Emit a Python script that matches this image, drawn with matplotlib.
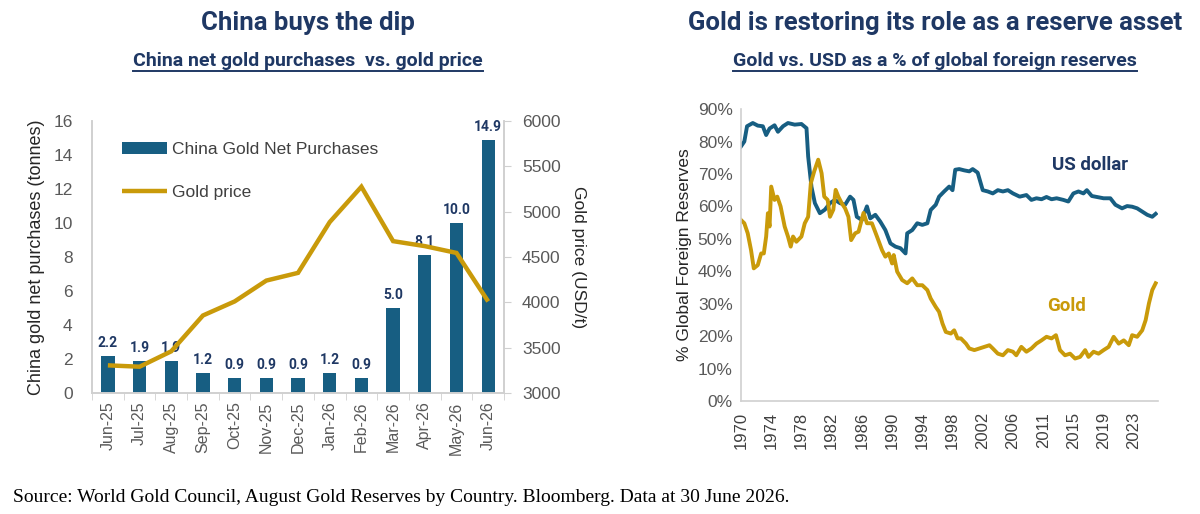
import numpy as np
import matplotlib
matplotlib.use("Agg")
import matplotlib.pyplot as plt
from matplotlib.lines import Line2D

# ---- left chart data ----
months = ["Jun-25", "Jul-25", "Aug-25", "Sep-25", "Oct-25", "Nov-25", "Dec-25",
          "Jan-26", "Feb-26", "Mar-26", "Apr-26", "May-26", "Jun-26"]
china_purchases = [2.2, 1.9, 1.9, 1.2, 0.9, 0.9, 0.9, 1.2, 0.9, 5.0, 8.1, 10.0, 14.9]
gold_price = [3305, 3290, 3460, 3855, 4010, 4240, 4325, 4885, 5275, 4675, 4620, 4545, 4010]

# ---- right chart data ----
usd_years = [1970.0, 1970.44, 1970.8, 1971.56, 1972.22, 1972.89, 1973.33, 1973.78, 1974.44,
             1974.89, 1975.56, 1976.22, 1977.11, 1978.0, 1978.67, 1978.89, 1979.33, 1979.78,
             1980.44, 1981.11, 1981.78, 1982.44, 1983.11, 1983.78, 1984.44, 1984.89, 1985.33,
             1986.0, 1986.67, 1987.11, 1987.78, 1988.44, 1989.11, 1989.78, 1990.44, 1991.11,
             1991.78, 1992.0, 1992.67, 1993.33, 1994.0, 1994.67, 1995.11, 1995.78, 1996.22,
             1996.89, 1997.56, 1998.0, 1998.36, 1998.89, 1999.56, 2000.22, 2000.67, 2001.33,
             2002.0, 2002.67, 2003.33, 2004.0, 2004.67, 2005.33, 2006.0, 2006.89, 2007.78,
             2008.44, 2009.11, 2009.78, 2010.44, 2011.11, 2011.78, 2012.67, 2013.33, 2014.0,
             2014.67, 2015.33, 2015.78, 2016.44, 2017.33, 2018.0, 2018.89, 2019.56, 2020.44,
             2021.11, 2021.78, 2022.44, 2023.11, 2023.78, 2024.44, 2024.89]
usd_share = [78.5, 80.0, 84.7, 85.7, 84.9, 84.7, 82.0, 84.0, 85.0, 83.0, 84.7, 85.7, 85.2,
             85.4, 84.1, 75.4, 66.0, 61.0, 57.9, 59.0, 61.0, 62.0, 61.0, 60.5, 63.0, 62.0,
             56.8, 55.8, 60.0, 56.3, 57.4, 55.3, 52.7, 48.6, 47.6, 47.1, 45.5, 51.7, 52.7,
             54.8, 54.3, 54.8, 58.9, 60.5, 63.0, 64.6, 66.1, 65.0, 71.3, 71.5, 71.1, 70.8,
             71.5, 70.4, 65.0, 64.6, 64.0, 65.0, 64.6, 65.0, 64.0, 63.0, 63.5, 62.0, 62.5,
             62.2, 62.9, 62.2, 62.5, 62.0, 61.5, 64.0, 64.6, 64.0, 65.0, 63.2, 62.8, 62.5,
             62.5, 60.5, 59.4, 60.1, 59.9, 59.4, 58.4, 57.4, 56.8, 57.7]

gold_years = [1970.0, 1970.44, 1970.89, 1971.33, 1971.69, 1972.22, 1972.67, 1973.02, 1973.33,
              1973.56, 1973.78, 1974.0, 1974.44, 1974.8, 1975.24, 1975.78, 1976.22, 1976.58,
              1976.89, 1977.33, 1978.0, 1978.44, 1978.89, 1979.24, 1979.69, 1980.22, 1980.67,
              1981.02, 1981.47, 1981.78, 1982.22, 1982.53, 1982.89, 1983.33, 1983.78, 1984.22,
              1984.58, 1985.11, 1985.56, 1986.22, 1986.67, 1987.33, 1988.0, 1988.67, 1989.11,
              1989.56, 1990.0, 1990.22, 1990.67, 1991.33, 1992.0, 1992.67, 1993.33, 1994.0,
              1994.67, 1995.11, 1995.78, 1996.22, 1996.67, 1997.11, 1997.78, 1998.22, 1998.67,
              1999.11, 1999.78, 2000.22, 2000.89, 2001.56, 2002.22, 2002.89, 2003.33, 2004.0,
              2004.67, 2005.33, 2006.0, 2006.44, 2007.11, 2007.78, 2008.44, 2009.11, 2009.78,
              2010.44, 2011.11, 2011.69, 2012.22, 2012.89, 2013.56, 2014.22, 2014.89, 2015.56,
              2016.0, 2016.67, 2017.33, 2018.0, 2018.67, 2019.33, 2020.0, 2020.67, 2021.33,
              2021.78, 2022.44, 2023.11, 2023.56, 2024.0, 2024.44, 2024.89]
gold_share = [55.8, 54.8, 51.7, 46.5, 40.9, 41.9, 45.5, 45.5, 50.7, 57.9, 53.8, 66.1, 62.0,
              63.0, 60.0, 53.8, 50.7, 47.6, 50.7, 49.1, 50.7, 54.8, 56.8, 67.1, 70.8, 74.4,
              70.2, 63.0, 62.0, 56.8, 59.0, 65.1, 63.0, 61.0, 59.4, 56.8, 49.6, 51.7, 52.2,
              58.0, 54.8, 54.8, 50.7, 46.5, 44.5, 45.5, 42.4, 45.0, 39.9, 37.3, 36.3, 37.8,
              35.7, 35.7, 34.2, 31.6, 29.0, 27.5, 23.9, 21.3, 20.8, 21.8, 19.3, 19.3, 17.7,
              16.2, 15.7, 16.2, 16.7, 17.2, 16.2, 14.6, 14.1, 15.7, 15.2, 14.1, 16.7, 15.2,
              16.2, 17.7, 18.7, 19.8, 19.3, 20.3, 15.7, 14.1, 14.6, 13.1, 13.6, 15.7, 13.6,
              15.2, 14.6, 15.7, 16.7, 19.8, 17.7, 18.7, 17.2, 20.3, 19.8, 21.8, 24.9, 30.1,
              34.2, 36.3]
year_ticks = [1970, 1974, 1978, 1982, 1986, 1990, 1994, 1998, 2002, 2006, 2010, 2014, 2018, 2022]
year_labels = ["1970", "1974", "1978", "1982", "1986", "1990", "1994", "1998", "2002",
               "2006", "2011", "2015", "2019", "2023"]

BLUE = "#175E82"
GOLD = "#C99A0A"
NAVY = "#1F3864"
GREY_TXT = "#595959"
GREY_LINE = "#D0D0D0"

plt.rcParams["font.family"] = ["Liberation Sans", "DejaVu Sans"]

fig = plt.figure(figsize=(12, 5.14), dpi=100)

# ---------------- left chart ----------------
ax = fig.add_axes([0.0767, 0.2354, 0.3433, 0.5292])
ax2 = ax.twinx()
x = np.arange(len(months))
bars = ax.bar(x, china_purchases, width=0.42, color=BLUE, label="China Gold Net Purchases", zorder=2)
ln, = ax2.plot(x, gold_price, color=GOLD, lw=3.2, label="Gold price", solid_capstyle="butt",
               solid_joinstyle="miter")

for xi, v in zip(x, china_purchases):
    ax.text(xi, v + 0.35, f"{v:.1f}", ha="center", va="bottom", color=NAVY, fontsize=10,
            fontweight="bold", family=["Roboto", "DejaVu Sans"], zorder=3)

ax.set_xlim(-0.5, len(months) - 0.5)
ax.set_ylim(0, 16)
ax.set_yticks(range(0, 17, 2))
ax2.set_ylim(3000, 6000)
ax2.set_yticks(range(3000, 6001, 500))
ax.set_xticks(x)
ax.set_xticklabels(months, rotation=90, fontsize=11.5, color=GREY_TXT)
ax.set_xticks(np.arange(-0.5, len(months), 1), minor=True)
ax.tick_params(axis="x", which="major", length=0, pad=6)
ax.tick_params(axis="x", which="minor", length=5, color=GREY_LINE)
ax.tick_params(axis="y", length=0, labelsize=12.5, labelcolor=GREY_TXT, pad=14)
ax2.tick_params(axis="y", length=5, color=GREY_LINE, labelsize=12.5, labelcolor=GREY_TXT, pad=8)
for a in (ax, ax2):
    a.spines["top"].set_visible(False)
    for s in ("left", "right", "bottom"):
        a.spines[s].set_color(GREY_LINE)
        a.spines[s].set_linewidth(1.2)
ax.set_ylabel("China gold net purchases (tonnes)", fontsize=13, color="#262626", labelpad=6)
ax2.set_ylabel("Gold price (USD/t)", fontsize=12.5, color="#262626", rotation=270, labelpad=18)

leg = ax.legend(handles=[bars, ln], loc="upper left", bbox_to_anchor=(0.035, 0.98), frameon=False,
                labelspacing=1.6, handlelength=2.6, handletextpad=0.25,
                prop={"size": 12.5})
for t in leg.get_texts():
    t.set_color("#404040")

# ---------------- right chart ----------------
bx = fig.add_axes([0.6175, 0.2198, 0.3475, 0.568])
bx.plot(usd_years, usd_share, color=BLUE, lw=2.8, solid_joinstyle="round")
bx.plot(gold_years, gold_share, color=GOLD, lw=2.8, solid_joinstyle="round")
bx.set_xlim(1970, 2025.2)
bx.set_ylim(0, 90)
bx.set_yticks(range(0, 91, 10))
bx.set_yticklabels([f"{v}%" for v in range(0, 91, 10)])
bx.set_xticks(year_ticks)
bx.set_xticklabels(year_labels, rotation=90)
bx.tick_params(axis="y", length=0, labelsize=12.5, labelcolor=GREY_TXT, pad=6)
bx.tick_params(axis="x", length=0, labelsize=12, labelcolor="#404040", pad=8)
for s in ("top", "right"):
    bx.spines[s].set_visible(False)
for s in ("left", "bottom"):
    bx.spines[s].set_color(GREY_LINE)
    bx.spines[s].set_linewidth(1.2)
bx.set_ylabel("% Global Foreign Reserves", fontsize=12.5, color="#262626", labelpad=4)
bx.text(2016.2, 72.8, "US dollar", color=NAVY, fontsize=13.5, fontweight="bold",
        ha="center", va="center", family=["Roboto", "DejaVu Sans"])
bx.text(2013.1, 29.2, "Gold", color=GOLD, fontsize=13.5, fontweight="bold",
        ha="center", va="center", family=["Roboto", "DejaVu Sans"])

# ---------------- titles ----------------
title_font = ["Roboto", "DejaVu Sans"]
fig.text(0.2567, 0.955, "China buys the dip", ha="center", va="center", color=NAVY,
         fontsize=18.5, fontweight="bold", family=title_font)
fig.text(0.779, 0.955, "Gold is restoring its role as a reserve asset", ha="center", va="center",
         color=NAVY, fontsize=18.5, fontweight="bold", family=title_font)
subs = [
    fig.text(0.2567, 0.882, "China net gold purchases  vs. gold price", ha="center", va="center",
             color=NAVY, fontsize=14, fontweight="bold", family=title_font),
    fig.text(0.779, 0.882, "Gold vs. USD as a % of global foreign reserves", ha="center",
             va="center", color=NAVY, fontsize=14, fontweight="bold", family=title_font),
]

fig.text(0.011, 0.033, "Source: World Gold Council, August Gold Reserves by Country. Bloomberg. "
         "Data at 30 June 2026.", ha="left", va="center", fontsize=14,
         family=["Liberation Serif", "DejaVu Serif"], color="black")

# underline the subtitles
fig.canvas.draw()
inv = fig.transFigure.inverted()
for t in subs:
    bb = t.get_window_extent()
    (x0, y0), (x1, _) = inv.transform([(bb.x0, bb.y0), (bb.x1, bb.y1)])
    fig.add_artist(Line2D([x0, x1], [y0 - 0.002, y0 - 0.002], transform=fig.transFigure,
                          color=NAVY, lw=1.4))

fig.savefig("out.png", dpi=100)
